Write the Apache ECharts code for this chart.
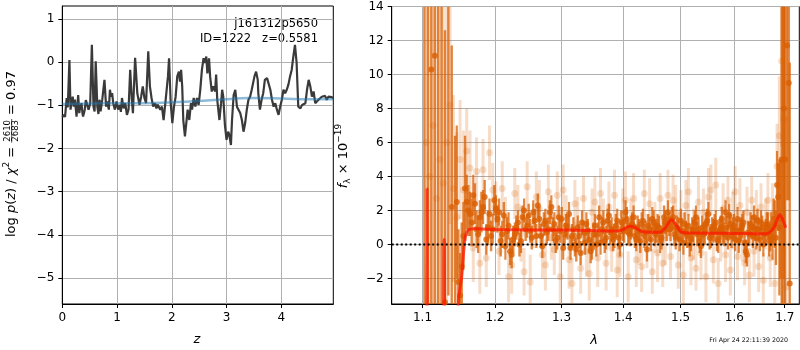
<!DOCTYPE html>
<html><head><meta charset="utf-8">
<script src="https://cdn.jsdelivr.net/npm/echarts@6/dist/echarts.min.js"></script>
<style>html,body{margin:0;padding:0;background:#fff}#c{width:800px;height:350px}</style>
</head><body><div id="c"></div>
<script>
// ---------- left panel: log p(z) ----------
const zGrid = [0.00,0.03,0.05,0.08,0.10,0.13,0.15,0.17,0.19,0.21,0.23,0.25,0.26,0.29,0.31,0.32,0.35,0.37,0.38,0.41,0.43,0.45,0.48,0.51,0.54,0.57,0.59,0.61,0.64,0.66,0.68,0.70,0.73,0.77,0.80,0.82,0.85,0.87,0.89,0.91,0.93,0.96,0.99,1.02,1.05,1.07,1.09,1.12,1.15,1.18,1.21,1.24,1.27,1.29,1.33,1.37,1.41,1.44,1.47,1.50,1.53,1.57,1.60,1.63,1.66,1.69,1.72,1.74,1.76,1.79,1.82,1.85,1.87,1.90,1.93,1.95,1.98,2.01,2.04,2.07,2.10,2.13,2.15,2.17,2.19,2.21,2.24,2.26,2.29,2.32,2.35,2.37,2.40,2.43,2.46,2.49,2.52,2.55,2.58,2.60,2.63,2.65,2.68,2.70,2.73,2.76,2.79,2.81,2.83,2.87,2.90,2.92,2.94,2.97,3.00,3.03,3.05,3.08,3.10,3.13,3.16,3.19,3.22,3.25,3.28,3.31,3.34,3.37,3.40,3.43,3.46,3.49,3.51,3.54,3.57,3.58,3.61,3.64,3.67,3.70,3.74,3.77,3.80,3.83,3.86,3.89,3.92,3.95,3.98,4.01,4.04,4.07,4.10,4.13,4.16,4.19,4.22,4.25,4.28,4.31,4.35,4.38,4.41,4.44,4.47,4.50,4.53,4.56,4.59,4.62,4.65,4.68,4.71,4.74,4.77,4.80,4.83,4.86,4.89,4.92,4.95];
const logPz = [-1.27,-1.22,-1.27,-0.83,-1.05,0.05,-1.10,-0.92,-0.80,-1.03,-0.87,-1.12,-1.26,-0.76,-1.18,-1.10,-0.95,-1.20,-1.26,-1.10,-0.88,-0.91,-1.10,-0.95,0.40,-1.03,-1.14,0.02,-1.03,-1.20,-0.87,-1.14,-0.87,-0.41,-1.03,-0.91,-1.10,-0.64,-0.80,-0.72,-0.95,-1.10,-0.91,-1.10,-0.99,-1.15,-0.83,-1.07,-0.95,-1.22,-1.10,-0.18,-0.87,-1.18,0.10,-0.72,-0.99,-0.80,-0.56,-0.83,-0.95,0.25,-0.56,-0.83,-1.03,-0.95,-1.07,-0.98,-1.03,-1.10,-1.03,-1.34,-1.10,-0.72,-0.33,0.09,-0.95,-1.41,-1.03,-0.80,-0.33,-0.22,-0.45,-0.18,-0.56,-1.34,-1.72,-1.76,-1.10,-1.34,-0.95,-1.10,-0.83,-1.03,-0.83,-0.99,-0.64,-0.18,0.09,-0.02,0.13,-0.26,0.09,-0.33,-0.68,-0.56,-0.68,-0.29,-0.87,-1.34,-0.95,-0.64,-0.80,-1.45,-1.80,-1.61,-1.68,-1.92,-1.34,-0.76,-0.64,-1.03,-1.03,-1.18,-1.34,-1.61,-1.41,-1.10,-0.87,-0.80,-0.64,-0.64,-0.33,-0.22,-0.41,-0.72,-1.10,-0.87,-0.72,-0.41,-0.37,-0.41,-0.64,-0.87,-1.03,-0.95,-1.10,-1.22,-1.03,-0.87,-0.64,-0.72,-0.64,-0.52,-0.33,-0.18,0.13,0.40,-0.02,-1.03,-1.07,-0.99,-1.03,-0.95,-0.64,-0.41,-0.56,-0.80,-0.68,-0.95,-0.99,-0.87,-0.91,-0.80,-0.83,-0.78,-0.87,-0.80,-0.83,-0.81,-0.84];
const priorZ = [0.0,0.5,1.0,1.5,2.0,2.5,3.0,3.4,4.0,4.5,4.95];
const priorLogPz = [-0.97,-0.96,-0.95,-0.95,-0.93,-0.90,-0.86,-0.83,-0.84,-0.86,-0.86];
const zTicks = [0,1,2,3,4];
const logPTicks = [-5,-4,-3,-2,-1,0,1];

// ---------- right panel: spectrum ----------
const lamTicks = [1.1,1.2,1.3,1.4,1.5,1.6,1.7];
const fluxTicks = [-2,0,2,4,6,8,10,12,14];
// [lambda, flux, error]
const darkSpec = [
[1.1025,20,30],[1.1071,-8,25],[1.1117,10.3,20],[1.1163,11.1,18],[1.1209,18,22],[1.1255,-6,20],[1.1301,-3.4,16],[1.1347,15,18],
[1.1393,2.2,9.5],[1.1439,-6,12.4],[1.1485,-2.2,3.1],[1.1531,-1.3,2.6],[1.1577,3.3,3.1],[1.1623,2.0,1.5],[1.1669,1.3,1.4],[1.1715,2.4,1.2],
[1.1761,0.6,1.1],[1.1807,1.9,1.2],[1.1853,2.8,1.0],[1.1899,1.0,1.0],[1.1945,0.5,0.9],[1.1991,2.6,0.9],[1.2037,1.5,0.8],[1.2083,0.2,0.9],
[1.2129,1.7,0.8],[1.2175,0.8,0.8],[1.2221,-0.4,0.8],[1.2267,0.3,0.8],[1.2313,1.0,0.7],[1.2359,0.0,0.7],[1.2405,1.6,0.7],[1.2451,0.9,0.7],
[1.2497,1.7,0.7],[1.2543,0.4,0.7],[1.2589,1.4,0.7],[1.2635,2.3,0.7],[1.2681,0.5,0.7],[1.2727,1.2,0.7],[1.2773,0.7,0.7],[1.2819,1.9,0.7],
[1.2865,0.9,0.7],[1.2911,0.2,0.7],[1.2957,1.6,0.7],[1.3003,1.5,0.7],[1.3049,0.6,0.7],[1.3095,1.0,0.7],[1.3141,-0.2,0.7],[1.3187,0.9,0.7],
[1.3233,-0.3,0.7],[1.3279,0.5,0.7],[1.3325,1.3,0.7],[1.3371,0.1,0.7],[1.3417,0.8,0.7],[1.3463,-0.4,0.7],[1.3509,0.6,0.7],[1.3555,0.0,0.7],
[1.3601,1.6,0.7],[1.3647,0.9,0.7],[1.3693,0.2,0.7],[1.3739,1.4,0.7],[1.3785,0.7,0.7],[1.3831,0.3,0.7],[1.3877,1.1,0.7],[1.3923,0.4,0.7],
[1.3969,1.3,0.7],[1.4015,0.8,0.7],[1.4061,1.5,0.7],[1.4107,0.6,0.7],[1.4153,1.2,0.7],[1.4199,0.5,0.7],[1.4245,1.0,0.7],[1.4291,0.2,0.7],
[1.4337,1.4,0.7],[1.4383,0.7,0.7],[1.4429,1.1,0.7],[1.4475,0.3,0.7],[1.4521,1.3,0.7],[1.4567,0.8,0.7],[1.4613,1.0,0.7],[1.4659,0.4,0.7],
[1.4705,1.6,0.7],[1.4751,0.9,0.7],[1.4797,1.2,0.7],[1.4843,1.5,0.7],[1.4889,0.6,0.7],[1.4935,1.0,0.7],[1.4981,0.3,0.7],[1.5027,0.8,0.7],
[1.5073,1.2,0.7],[1.5119,0.5,0.7],[1.5165,0.0,0.7],[1.5211,0.9,0.7],[1.5257,1.3,0.7],[1.5303,0.6,0.7],[1.5349,0.2,0.7],[1.5395,1.0,0.7],
[1.5441,0.7,0.7],[1.5487,1.4,0.7],[1.5533,0.4,0.7],[1.5579,0.9,0.7],[1.5625,1.1,0.7],[1.5671,0.3,0.7],[1.5717,0.8,0.7],[1.5763,1.5,0.7],
[1.5809,0.6,0.7],[1.5855,1.0,0.7],[1.5901,1.7,0.7],[1.5947,0.5,0.7],[1.5993,1.1,0.7],[1.6039,0.8,0.7],[1.6085,0.2,0.7],[1.6131,0.9,0.7],
[1.6177,1.3,0.7],[1.6223,-0.4,0.7],[1.6269,0.7,0.7],[1.6315,1.2,0.7],[1.6361,0.5,0.7],[1.6407,0.9,0.7],[1.6453,1.4,0.7],[1.6499,0.3,0.7],
[1.6545,1.0,0.7],[1.6591,0.6,0.7],[1.6637,1.2,0.7],[1.6683,0.2,0.9],[1.6729,0.9,1.0],[1.6775,1.5,1.2],[1.6821,0.4,1.6],[1.6867,2.8,2.0],
[1.6913,1.5,3.5],[1.6959,-5,20],[1.7005,5,12],[1.7047,11.7,9.1],[1.7082,9.5,6.9],[1.7101,-2.3,13]
];
const darkSpec2 = [
[1.1462,2.5,4.5],[1.1508,-3,2.5],[1.1554,0.5,2.0],[1.1600,2.5,1.6],[1.1646,1.8,1.3],[1.1692,2.9,1.2],[1.1738,0.9,1.1],
[1.1784,1.6,1.0],[1.1830,2.2,1.0],[1.1876,0.3,0.9],[1.1922,1.8,0.9],[1.1968,0.9,0.9],[1.2014,2.1,0.8],[1.2060,1.9,0.8],[1.2106,0.6,0.8],
[1.2152,-0.1,0.8],[1.2198,1.1,0.8],[1.2244,-0.6,0.8],[1.2290,0.6,0.7],[1.2336,1.3,0.7],[1.2382,0.2,0.7],[1.2428,2.0,0.7],[1.2474,1.1,0.7],
[1.2520,0.8,0.7],[1.2566,1.9,0.7],[1.2612,0.5,0.7],[1.2658,1.5,0.7],[1.2704,-0.1,0.7],[1.2750,1.4,0.7],[1.2796,0.9,0.7],[1.2842,2.2,0.7],
[1.2888,1.2,0.7],[1.2934,0.4,0.7],[1.2980,0.8,0.7],[1.3026,-0.2,0.7],[1.3072,1.1,0.7],[1.3118,1.8,0.7],[1.3164,0.5,0.7],[1.3210,0.0,0.7],
[1.3256,1.0,0.7],[1.3302,-0.5,0.7],[1.3348,0.7,0.7],[1.3394,1.2,0.7],[1.3440,0.3,0.7],[1.3486,-0.2,0.7],[1.3532,1.1,0.7],[1.3578,0.6,0.7],
[1.3624,0.1,0.7],[1.3670,1.3,0.7],[1.3716,0.4,0.7],[1.3762,1.7,0.7],[1.3808,0.9,0.7],[1.3854,0.5,0.7],[1.3900,1.4,0.7],[1.3946,0.0,0.7],
[1.3992,0.9,0.7],[1.4038,1.9,0.7],[1.4084,0.7,0.7],[1.4130,1.0,0.7],[1.4176,1.6,0.7],[1.4222,0.3,0.7],[1.4268,0.8,0.7],[1.4314,1.2,0.7],
[1.4360,0.5,0.7],[1.4406,-0.3,0.7],[1.4452,0.9,0.7],[1.4498,1.5,0.7],[1.4544,0.6,0.7],[1.4590,1.1,0.7],[1.4636,0.2,0.7],[1.4682,0.8,0.7],
[1.4728,1.3,0.7],[1.4774,1.9,0.7],[1.4820,0.9,0.7],[1.4866,1.6,0.7],[1.4912,0.4,0.7],[1.4958,0.9,0.7],[1.5004,1.4,0.7],[1.5050,0.1,0.7],
[1.5096,0.7,0.7],[1.5142,1.1,0.7],[1.5188,0.3,0.7],[1.5234,0.8,0.7],[1.5280,1.6,0.7],[1.5326,0.9,0.7],[1.5372,-0.1,0.7],[1.5418,0.6,0.7],
[1.5464,1.2,0.7],[1.5510,1.8,0.7],[1.5556,0.5,0.7],[1.5602,0.8,0.7],[1.5648,1.3,0.7],[1.5694,0.2,0.7],[1.5740,1.0,0.7],[1.5786,0.7,0.7],
[1.5832,1.9,0.7],[1.5878,0.4,0.7],[1.5924,1.2,0.7],[1.5970,0.9,0.7],[1.6016,0.3,0.7],[1.6062,1.5,0.7],[1.6108,0.8,0.7],[1.6154,1.1,0.7],
[1.6200,0.1,0.7],[1.6246,-0.6,0.7],[1.6292,0.6,0.7],[1.6338,1.0,0.7],[1.6384,1.6,0.7],[1.6430,0.4,0.7],[1.6476,0.9,0.7],[1.6522,1.3,0.7],
[1.6568,0.0,0.7],[1.6614,0.8,0.7],[1.6660,1.1,0.8],[1.6706,0.5,0.9],[1.6752,0.2,1.1],[1.6798,1.2,1.4],[1.6844,3.5,2.0],[1.6890,1.0,4],
[1.6936,5,14],[1.6982,8,10]
];
const lightSpec = [
[1.1048,6,25],[1.1094,4,20],[1.1140,7,12],[1.1186,2.7,14],[1.1232,5,12],[1.1278,3.6,11],[1.1324,6,10],[1.1370,8.2,7],
[1.1416,3.3,5.5],[1.1462,1.6,5],[1.1508,5.0,3.5],[1.1554,3.2,3.5],[1.1600,5.5,2.5],[1.1646,4.5,2.2],[1.1692,-0.2,2.0],[1.1738,4.3,2.0],
[1.1784,-1.1,1.8],[1.1830,4.4,1.8],[1.1876,-0.8,1.7],[1.1922,5.4,1.6],[1.1968,3.2,1.6],[1.2014,2.2,1.5],[1.2060,-0.4,1.4],[1.2106,3.3,1.6],
[1.2152,1.5,1.3],[1.2198,-1.9,1.5],[1.2244,-1.2,1.7],[1.2290,3.0,1.5],[1.2336,2.2,1.3],[1.2382,0.6,1.6],[1.2428,-1.6,1.4],[1.2474,3.4,1.5],
[1.2520,-2.2,1.6],[1.2566,1.1,1.3],[1.2612,2.8,1.5],[1.2658,2.1,1.7],[1.2704,-0.6,1.4],[1.2750,-1.2,1.5],[1.2796,3.1,1.6],[1.2842,0.4,1.3],
[1.2888,-0.3,1.5],[1.2934,2.9,1.4],[1.2980,-1.9,1.6],[1.3026,3.2,1.5],[1.3072,1.6,1.3],[1.3118,-0.9,1.7],[1.3164,-2.3,1.5],[1.3210,2.4,1.4],
[1.3256,1.2,1.6],[1.3302,-1.4,1.5],[1.3348,2.7,1.3],[1.3394,-0.4,1.5],[1.3440,-1.7,1.6],[1.3486,1.9,1.4],[1.3532,2.5,1.5],[1.3578,-0.8,1.7],
[1.3624,3.0,1.5],[1.3670,1.4,1.3],[1.3716,-1.1,1.6],[1.3762,2.2,1.5],[1.3808,-0.2,1.4],[1.3854,2.9,1.5],[1.3900,-1.5,1.6],[1.3946,-0.6,1.3],
[1.3992,1.8,1.5],[1.4038,2.6,1.7],[1.4084,-1.9,1.5],[1.4130,1.3,1.4],[1.4176,2.7,1.5],[1.4222,-0.9,1.6],[1.4268,0.1,1.3],[1.4314,-1.3,1.5],
[1.4360,3.0,1.4],[1.4406,0.2,1.6],[1.4452,2.4,1.5],[1.4498,-1.6,1.3],[1.4544,1.0,1.5],[1.4590,-0.5,1.7],[1.4636,2.7,1.5],[1.4682,-1.1,1.4],
[1.4728,0.4,1.6],[1.4774,2.9,1.5],[1.4820,-0.7,1.3],[1.4866,2.6,1.5],[1.4912,1.9,1.6],[1.4958,-1.2,1.4],[1.5004,1.7,1.5],[1.5050,-1.8,1.7],
[1.5096,2.3,1.5],[1.5142,3.1,1.4],[1.5188,-0.8,1.6],[1.5234,0.6,1.5],[1.5280,-1.4,1.3],[1.5326,2.5,1.5],[1.5372,-0.5,1.6],[1.5418,1.9,1.4],
[1.5464,-1.9,1.5],[1.5510,2.8,1.7],[1.5556,3.2,1.5],[1.5602,-0.9,1.4],[1.5648,3.5,1.6],[1.5694,-2.3,1.5],[1.5740,0.3,1.3],[1.5786,2.1,1.5],
[1.5832,-0.6,1.6],[1.5878,2.6,1.4],[1.5924,-1.5,1.5],[1.5970,1.4,1.7],[1.6016,3.1,1.5],[1.6062,-0.7,1.4],[1.6108,2.3,1.6],[1.6154,0.5,1.5],
[1.6200,-1.1,1.3],[1.6246,1.9,1.5],[1.6292,-1.8,1.6],[1.6338,2.6,1.4],[1.6384,-0.4,1.5],[1.6430,1.5,1.7],[1.6476,-1.3,1.5],[1.6522,2.2,1.4],
[1.6568,-2.1,1.6],[1.6614,1.2,1.5],[1.6660,2.6,1.6],[1.6706,-0.8,1.7],[1.6752,1.8,1.8],[1.6798,-2.3,2.0],[1.6844,4.6,2.5],[1.6890,6.4,3.5],
[1.6936,10.8,5],[1.6982,7.4,8],[1.7028,-2.5,10]
];
const modelLam = [1.1040,1.1060,1.1075,1.1255,1.1290,1.1325,1.1460,1.1484,1.1530,1.1575,1.1620,1.1700,1.2000,1.2500,1.3000,1.3500,1.3900,1.4000,1.4110,1.4200,1.4330,1.4630,1.4720,1.4840,1.4920,1.5020,1.5200,1.5800,1.6630,1.6780,1.6900,1.6960,1.7020];
const modelFlux = [-20,3.3,-20,-20,0.3,-20,-20,-3.4,-1.9,0.3,0.85,0.92,0.88,0.86,0.85,0.82,0.80,0.88,1.07,1.00,0.75,0.72,0.95,1.45,1.15,0.72,0.67,0.66,0.63,1.00,1.75,1.45,0.98];

const FONT = '"DejaVu Sans", sans-serif';
const minusFmt = v => String(v).replace('-', '\u2212');
const lamMin = Math.log(1.06), lamMax = Math.log(1.73);

const chart = echarts.init(document.getElementById('c'), null, {renderer: 'canvas'});

function errSeries(spec, color, width, z) {
  return {
    type: 'custom', xAxisIndex: 1, yAxisIndex: 1, z: z, silent: true, clip: true,
    data: spec.map(d => [Math.log(d[0]), d[1] - d[2], d[1] + d[2]]),
    encode: {x: 0, y: [1, 2]},
    renderItem: function (params, api) {
      const cs = params.coordSys;
      const a = api.coord([api.value(0), api.value(1)]);
      const b = api.coord([api.value(0), api.value(2)]);
      const clampY = y => Math.min(Math.max(y, cs.y), cs.y + cs.height);
      return {type: 'line', shape: {x1: a[0], y1: clampY(a[1]), x2: b[0], y2: clampY(b[1])},
              style: {stroke: color, lineWidth: width}};
    }
  };
}
function ptSeries(spec, color, size, z) {
  return {type: 'scatter', xAxisIndex: 1, yAxisIndex: 1, z: z, symbolSize: size, clip: true, silent: true,
          data: spec.map(d => [Math.log(d[0]), d[1]]), itemStyle: {color: color}};
}

// text measurement for composed math-like labels
const mctx = document.createElement('canvas').getContext('2d');
function tw(t, size, italic) { mctx.font = (italic ? 'italic ' : '') + size + 'px "DejaVu Sans"'; return mctx.measureText(t).width; }
function buildLabel(pieces, cx, cy) {
  let x = 0; const kids = [];
  pieces.forEach(p => {
    if (p.frac) {
      const w = Math.max(tw(p.num, p.size), tw(p.den, p.size)) + 2;
      kids.push({type: 'text', x: x + w / 2, y: p.ny, style: {text: p.num, fontSize: p.size, fontFamily: FONT, fill: '#000', align: 'center', verticalAlign: 'middle'}});
      kids.push({type: 'text', x: x + w / 2, y: p.dy2, style: {text: p.den, fontSize: p.size, fontFamily: FONT, fill: '#000', align: 'center', verticalAlign: 'middle'}});
      kids.push({type: 'line', shape: {x1: x, y1: p.by, x2: x + w, y2: p.by}, style: {stroke: '#000', lineWidth: 0.7}});
      x += w;
    } else {
      kids.push({type: 'text', x: x, y: p.dy || 0, style: {text: p.t, fontSize: p.size, fontFamily: FONT, fontStyle: p.i ? 'italic' : 'normal', fill: '#000', align: 'left', verticalAlign: 'middle'}});
      x += tw(p.t, p.size, p.i);
    }
  });
  kids.forEach(k => { if (k.type === 'line') { k.shape.x1 -= x / 2; k.shape.x2 -= x / 2; } else { k.x -= x / 2; } });
  return {type: 'group', x: cx, y: cy, rotation: Math.PI / 2, children: kids, silent: true};
}

const leftLabel = buildLabel([
  {t: 'log ', size: 13}, {t: 'p', size: 13, i: true}, {t: '(', size: 13}, {t: 'z', size: 13, i: true}, {t: ') / ', size: 13},
  {t: '\u03c7', size: 13, i: true}, {t: '2', size: 9, dy: -5}, {t: ' = ', size: 13},
  {frac: true, num: '2610', den: '2683', size: 8.5, ny: -4.5, dy2: 3.8, by: -0.3},
  {t: ' = 0.97', size: 13}
], 12, 154);
const rightLabel = buildLabel([
  {t: 'f', size: 13, i: true}, {t: '\u03bb', size: 9, dy: 3.5}, {t: ' \u00d7 10', size: 13}, {t: '\u221219', size: 9, dy: -5}
], 344, 156);

const axisCommon = {
  axisLine: {show: true, onZero: false, lineStyle: {color: '#000', width: 1}},
  axisTick: {show: true, length: 4, lineStyle: {color: '#000', width: 1}},
  splitLine: {show: true, lineStyle: {color: '#b0b0b0', width: 1}},
};
function mkAxis(grid, min, max, ticks, fmt) {
  return Object.assign({}, axisCommon, {type: 'value', gridIndex: grid, min: min, max: max,
    axisTick: Object.assign({}, axisCommon.axisTick, {customValues: ticks}),
    splitLine: Object.assign({}, axisCommon.splitLine, {customValues: ticks}),
    axisLabel: {customValues: ticks, formatter: fmt, color: '#000', fontSize: 12, fontFamily: FONT, margin: 8}});
}

const option = {
  animation: false,
  backgroundColor: '#fff',
  grid: [
    {left: 62.3, top: 6, width: 271, height: 298, show: true, borderColor: '#000', borderWidth: 1, containLabel: false},
    {left: 391.7, top: 6.5, width: 407.6, height: 297.5, show: true, borderColor: '#000', borderWidth: 1, containLabel: false}
  ],
  xAxis: [
    mkAxis(0, 0, 4.95, zTicks, minusFmt),
    mkAxis(1, lamMin, lamMax, lamTicks.map(Math.log), v => Math.exp(v).toFixed(1))
  ],
  yAxis: [
    mkAxis(0, -5.6, 1.3, logPTicks, minusFmt),
    mkAxis(1, -3.5, 14, fluxTicks, minusFmt)
  ],
  series: [
    {type: 'line', xAxisIndex: 0, yAxisIndex: 0, z: 3, showSymbol: false, clip: true,
     data: zGrid.map((z, i) => [z, logPz[i]]), lineStyle: {color: '#3a3a3a', width: 2.2}},
    {type: 'line', xAxisIndex: 0, yAxisIndex: 0, z: 4, showSymbol: false, smooth: true, clip: true,
     data: priorZ.map((z, i) => [z, priorLogPz[i]]), lineStyle: {color: 'rgba(31,119,180,0.5)', width: 2.5}},
    errSeries(lightSpec, 'rgba(217,95,2,0.22)', 3, 2),
    ptSeries(lightSpec, 'rgba(217,95,2,0.25)', 7, 3),
    errSeries(darkSpec, 'rgba(217,95,2,0.75)', 2.4, 4),
    errSeries(darkSpec2, 'rgba(217,95,2,0.75)', 2.2, 4),
    ptSeries(darkSpec, '#d95f02', 6, 5),
    ptSeries(darkSpec2, '#d95f02', 6, 5),
    {type: 'line', xAxisIndex: 1, yAxisIndex: 1, z: 6, showSymbol: false, clip: true, smooth: 0.3,
     data: modelLam.map((l, i) => [Math.log(l), modelFlux[i]]), lineStyle: {color: 'rgba(255,20,0,0.72)', width: 3}},
    {type: 'line', xAxisIndex: 1, yAxisIndex: 1, z: 7, showSymbol: false, clip: true,
     data: [[lamMin, 0], [lamMax, 0]], lineStyle: {color: '#000', width: 2, type: [2, 2.5]}}
  ],
  graphic: [
    {type: 'text', x: 318, y: 24, silent: true, style: {text: 'j161312p5650', fontSize: 11.5, fontFamily: FONT, fill: '#000', align: 'right', verticalAlign: 'middle'}},
    {type: 'text', x: 318, y: 39, silent: true, style: {text: 'ID=1222   z=0.5581', fontSize: 11.5, fontFamily: FONT, fill: '#000', align: 'right', verticalAlign: 'middle'}},
    {type: 'text', x: 197, y: 340, silent: true, style: {text: 'z', fontSize: 13, fontStyle: 'italic', fontFamily: FONT, fill: '#000', align: 'center', verticalAlign: 'middle'}},
    {type: 'text', x: 594, y: 341, silent: true, style: {text: '\u03bb', fontSize: 13, fontStyle: 'italic', fontFamily: FONT, fill: '#000', align: 'center', verticalAlign: 'middle'}},
    {type: 'text', x: 788, y: 340, silent: true, style: {text: 'Fri Apr 24 22:11:39 2020', fontSize: 6.3, fontFamily: FONT, fill: '#000', align: 'right', verticalAlign: 'middle'}},
    leftLabel, rightLabel
  ]
};
chart.setOption(option);
</script>
</body></html>
